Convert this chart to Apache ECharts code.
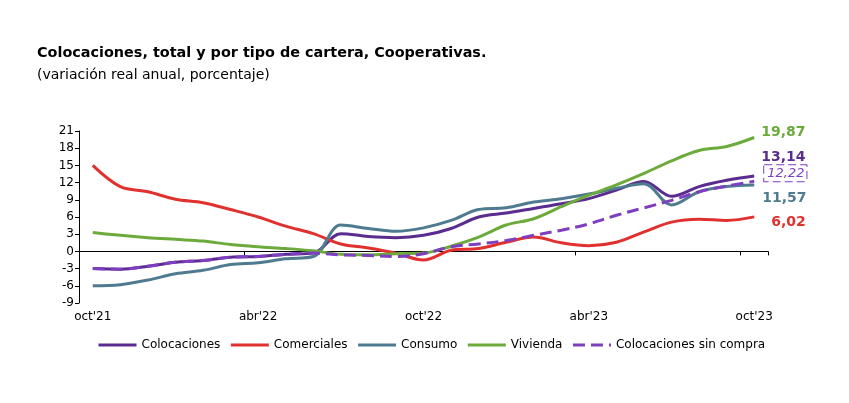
<!DOCTYPE html>
<html>
<head>
<meta charset="utf-8">
<script src="https://cdn.jsdelivr.net/npm/echarts@6/dist/echarts.min.js"></script>
<style>
  html, body { margin: 0; padding: 0; background: #fff; }
  #chart { width: 849px; height: 403px; }
</style>
</head>
<body>
<div id="chart"></div>
<script>
// meses (oct'21 - oct'23)
var meses = ["oct'21", "nov'21", "dic'21", "ene'22", "feb'22", "mar'22", "abr'22", "may'22", "jun'22",
    "jul'22", "ago'22", "sep'22", "oct'22", "nov'22", "dic'22", "ene'23", "feb'23", "mar'23",
    "abr'23", "may'23", "jun'23", "jul'23", "ago'23", "sep'23", "oct'23"];

var colocaciones = [-3.0, -3.1, -2.6, -1.9, -1.6, -1.0, -0.9, -0.5, -0.3, 3.1, 2.6, 2.4, 2.8,
    4.0, 6.0, 6.7, 7.5, 8.3, 9.2, 10.7, 12.2, 9.6, 11.3, 12.4, 13.14];
var comerciales = [15.0, 11.3, 10.4, 9.1, 8.5, 7.3, 6.0, 4.4, 3.1, 1.3, 0.6, -0.3, -1.5,
    0.2, 0.5, 1.6, 2.5, 1.5, 1.0, 1.6, 3.4, 5.1, 5.6, 5.4, 6.02];
var consumo = [-6.0, -5.8, -5.0, -3.9, -3.3, -2.3, -2.0, -1.3, -0.9, 4.6, 4.0, 3.5, 4.1,
    5.4, 7.3, 7.6, 8.6, 9.2, 10.0, 11.0, 11.8, 8.1, 10.4, 11.3, 11.57];
var vivienda = [3.3, 2.8, 2.4, 2.1, 1.8, 1.2, 0.8, 0.5, 0.1, -0.5, -0.6, -0.4, -0.3,
    0.9, 2.5, 4.6, 5.7, 7.8, 9.8, 11.6, 13.6, 15.8, 17.6, 18.3, 19.87];
var sinCompra = [-3.0, -3.1, -2.6, -1.9, -1.6, -1.0, -0.9, -0.5, -0.3, -0.6, -0.7, -0.9, -0.4,
    0.8, 1.3, 1.9, 2.8, 3.7, 4.8, 6.3, 7.6, 8.9, 10.4, 11.4, 12.22];

var yTicks = [-9, -6, -3, 0, 3, 6, 9, 12, 15, 18, 21];

var cMorado = '#5B2C8F', cRojo = '#E0312E', cAzul = '#4F7B90', cVerde = '#6CAB3B', cMorado2 = '#7D3FC0';
var fuente = 'DejaVu Sans';

function fmt(p) { return p.value.toFixed(2).replace('.', ','); }

function serie(nombre, datos, color, etiqueta, tipo) {
    return {
        name: nombre,
        type: 'line',
        data: datos,
        smooth: 0.35,
        symbol: 'none',
        z: tipo === 'dashed' ? 5 : 3,
        lineStyle: { color: color, width: 3, type: tipo || 'solid' },
        itemStyle: { color: color },
        endLabel: etiqueta
    };
}

var chart = echarts.init(document.getElementById('chart'), null, { renderer: 'canvas' });

var option = {
    backgroundColor: '#ffffff',
    animation: false,
    title: {
        text: 'Colocaciones, total y por tipo de cartera, Cooperativas.',
        subtext: '(variación real anual, porcentaje)',
        left: 37,
        top: 46,
        padding: 0,
        itemGap: 8,
        textStyle: { fontFamily: fuente, fontWeight: 'bold', fontSize: 14.4, color: '#000' },
        subtextStyle: { fontFamily: fuente, fontSize: 14, color: '#000' }
    },
    legend: {
        left: 97,
        top: 339,
        padding: 0,
        itemWidth: 38,
        itemHeight: 3,
        itemGap: 9,
        itemStyle: { opacity: 0 },
        lineStyle: { width: 3 },
        textStyle: { fontFamily: fuente, fontSize: 12, color: '#000' },
        data: ['Colocaciones', 'Comerciales', 'Consumo', 'Vivienda', 'Colocaciones sin compra']
    },
    grid: { left: 79, right: 81, top: 131, bottom: 100 },
    xAxis: [{
        type: 'category',
        data: meses,
        boundaryGap: true,
        position: 'bottom',
        axisLine: { show: false, onZero: false },
        axisTick: { show: false },
        axisLabel: { interval: 5, margin: 8, fontFamily: fuente, fontSize: 12, color: '#000' }
    }, {
        type: 'category',
        data: meses,
        boundaryGap: true,
        position: 'bottom',
        axisLine: { show: true, onZero: true, lineStyle: { color: '#000', width: 1 } },
        axisTick: { show: true, interval: 5, length: 4, lineStyle: { color: '#000' } },
        axisLabel: { show: false }
    }],
    yAxis: {
        type: 'value',
        min: yTicks[0],
        max: yTicks[yTicks.length - 1],
        interval: 3,
        splitLine: { show: false },
        axisLine: { show: true, lineStyle: { color: '#000', width: 1 } },
        axisTick: { show: true, length: 4, lineStyle: { color: '#000' } },
        axisLabel: { margin: 5, fontFamily: fuente, fontSize: 12, color: '#000' }
    },
    series: [
        serie('Colocaciones', colocaciones, cMorado, {
            show: true, formatter: fmt, offset: [-1, -19], color: cMorado,
            fontFamily: fuente, fontWeight: 'bold', fontSize: 14
        }),
        serie('Comerciales', comerciales, cRojo, {
            show: true, formatter: fmt, offset: [9, 5], color: cRojo,
            fontFamily: fuente, fontWeight: 'bold', fontSize: 14
        }),
        serie('Consumo', consumo, cAzul, {
            show: true, formatter: fmt, offset: [0, 13], color: cAzul,
            fontFamily: fuente, fontWeight: 'bold', fontSize: 14
        }),
        serie('Vivienda', vivienda, cVerde, {
            show: true, formatter: fmt, offset: [-1, -5], color: cVerde,
            fontFamily: fuente, fontWeight: 'bold', fontSize: 14
        }),
        serie('Colocaciones sin compra', sinCompra, cMorado2, {
            show: true, formatter: fmt, offset: [2, -8], color: cMorado2,
            fontFamily: fuente, fontStyle: 'italic', fontSize: 13,
            backgroundColor: '#fff', borderColor: cMorado2, borderWidth: 1, borderType: 'dashed',
            padding: [2, 2, 1, 3]
        }, 'dashed')
    ]
};

chart.setOption(option);
</script>
</body>
</html>
